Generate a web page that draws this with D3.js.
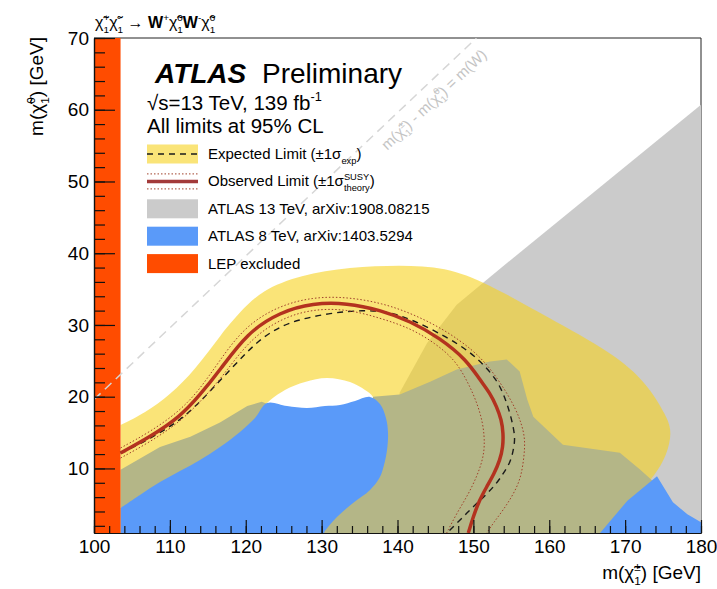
<!DOCTYPE html>
<html>
<head>
<meta charset="utf-8">
<script src="https://cdn.jsdelivr.net/npm/d3@7"></script>
<style>
body{margin:0;background:#fff}
svg{display:block}
text{font-family:"Liberation Sans",Arial,Helvetica,sans-serif;white-space:pre}
</style>
</head>
<body>
<div id="chart"></div>
<script>
// limits in (m chargino, m neutralino) GeV
var lepLimit = 103.5;
var mW = 80.4;

var xTickLabels = [100,110,120,130,140,150,160,170,180];
var yTickLabels = [10,20,30,40,50,60,70];

var atlas13Grey = [[180,60.7],[152.2,36.7],[147.8,32.8],[143.9,27.5],[140.3,20.6],[139.2,12],[138.5,1],[180,1]];

var atlas13Overlap = [[103.5,9.8],[108.7,13.0],[112.7,14.4],[116.6,16.4],[120.2,18.7],[122.1,19.3],[122.8,19.0],
  [125,15],[135,15],[136.8,20.0],[140.3,20.3],[144.3,22.1],[147.8,23.8],[152.2,24.9],[154.4,25.2],[156.1,23.5],
  [157.1,19.6],[157.9,17.2],[161.8,13.3],[169.3,12.2],[172.0,9.8],[173.9,8.0],[171,4],[168,1],[103.5,1]];

var atlas8Left = [[103.5,4.48],[106.06,6.30],[108.70,8.11],[111.33,9.64],[113.97,11.18],[116.61,12.99],[119.24,15.08],
  [121.22,17.03],[122.80,19.12],[125.44,18.70],[128.07,18.42],[130.44,18.70],[132.42,18.84],[134.40,19.40],
  [136.38,19.96],[137.69,18.98],[138.48,17.03],[138.75,14.94],[138.62,12.57],[138.22,10.48],[137.69,8.81],
  [136.38,7.00],[134.14,5.18],[132.16,3.37],[130.44,1.28],[130.05,0.5],[103.5,0.5]];
var atlas8Right = [[166.7,1],[170.3,5.5],[174.2,8.9],[176.3,5.3],[178.2,3.6],[180,2.5],[180,1]];

var expBandOuter = [[103.5,16.05],[106.72,17.73],[110.02,20.24],[113.31,23.72],[116.87,28.88],[119.24,31.81],
  [122.14,34.87],[127.15,36.96],[133.74,38.08],[140.33,38.36],[146.26,38.08],[151.80,35.85],[159.70,31.11],
  [168.40,26.09],[172.88,21.91],[175.52,17.17],[176.18,15.08],[175.52,11.87],[173.94,9.08],[171.96,6.72],
  [169,3],[167,1],[103.5,1]];
var expBandInner = [[122.0,18.0],[122.80,19.12],[125.17,20.93],[127.81,22.05],[130.70,22.61],[133.74,22.05],
  [135.72,20.93],[136.77,19.96],[137.5,17.5],[136,12],[125,12]];

var expCurve = [[103.5,12.15],[106.06,13.41],[109.09,15.22],[111.33,16.75],[113.57,18.84],[115.68,21.21],
  [117.92,23.72],[120.16,26.23],[122.27,28.32],[124.51,29.72],[126.75,30.69],[131.10,31.67],[135.45,32.09],
  [139.01,31.81],[142.04,30.69],[146.52,28.32],[149.56,26.23],[151.40,24.42],[153.07,22.33],[154.04,20.24],
  [154.83,17.73],[155.35,15.36],[155.49,13.96],[155.22,12.29],[154.83,10.76],[153.90,9.22],[153.07,7.93],
  [151.66,6.30],[149.99,4.67],[148.50,3.09],[146.92,1.42],[146.52,1.0]];

var obsCurve = [[103.5,12.15],[107.38,14.38],[111.33,17.17],[113.97,20.24],[116.61,23.72],[120.16,28.88],
  [124.51,31.81],[128.86,33.06],[133.34,33.06],[137.69,32.09],[141.65,30.55],[145.60,28.18],[149.12,25.11],
  [150.87,22.33],[152.19,20.52],[153.07,18.61],[153.71,16.75],[153.94,14.90],[153.90,12.99],[153.51,11.18],
  [152.72,9.22],[151.76,7.45],[150.74,5.46],[149.99,3.27],[149.33,1.0]];
var obsUp = [[103.5,12.85],[107.38,15.08],[111.33,18.01],[113.97,21.07],[116.34,24.70],[119.77,29.72],
  [124.25,32.64],[128.86,33.90],[133.34,33.90],[137.96,33.06],[142.04,31.53],[146.26,29.30],[149.95,26.51],
  [151.93,24.28],[153.29,22.33],[154.57,20.24],[155.62,18.15],[156.15,16.75],[156.68,14.94],[156.81,13.03],
  [156.54,10.48],[156.15,8.39],[155.22,6.30],[153.94,4.21],[152.72,2.53],[151.76,1.0]];
var obsDown = [[103.5,11.45],[107.38,13.68],[111.33,16.47],[114.23,19.54],[117.00,22.88],[120.56,28.04],
  [124.78,30.97],[128.86,32.22],[133.34,32.22],[137.69,30.97],[141.65,29.58],[144.94,27.48],[147.58,25.12],
  [149.12,22.33],[150.35,19.54],[151.31,16.29],[151.53,13.03],[151.14,10.90],[150.44,8.85],[149.29,6.30],
  [147.80,3.75],[146.48,1.0]];

var kinLabelAt = [144.8, 61.4];

// couleurs
var cYellow="#f7d21e", cGrey="#cbcbcb", cOlive="#b4b687", cBlue="#5a9af9", cLep="#ff4c00",
    cObs="#b3321f", cTheo="#a0402a";

var W=717, H=589;
var svg=d3.select("#chart").append("svg").attr("width",W).attr("height",H);

var x=d3.scaleLinear().domain([100,180]).range([94,701]);
var y=d3.scaleLinear().domain([1,70]).range([533,38]);

svg.append("defs").append("clipPath").attr("id","plot")
  .append("rect").attr("x",x(100)).attr("y",y(70)).attr("width",x(180)-x(100)).attr("height",y(1)-y(70));

// texte avec exposants / indices
function rich(parent, x0, y0, parts, size, opts){
  opts=opts||{};
  var g=parent.append("g");
  var cx=0, fill=opts.fill||"#000";
  parts.forEach(function(p){
    if(p.t){
      var e=g.append("text").attr("x",cx).attr("y",0).attr("fill",fill)
        .style("font-size",size+"px")
        .style("font-weight",p.b?"bold":"normal")
        .style("font-style",p.i?"italic":"normal")
        .text(p.t);
      cx+=e.node().getComputedTextLength();
    }
    var w=0;
    if(p.sup!=null){
      var s=g.append("text").attr("x",cx).attr("y",-size*0.42).attr("fill",fill)
        .style("font-size",(size*0.62)+"px").text(p.sup);
      w=Math.max(w,s.node().getComputedTextLength());
    }
    if(p.sub!=null){
      var b=g.append("text").attr("x",cx).attr("y",size*0.3).attr("fill",fill)
        .style("font-size",(size*0.62)+"px").text(p.sub);
      w=Math.max(w,b.node().getComputedTextLength());
    }
    cx+=w;
  });
  var dx=opts.anchor==="end"?-cx:(opts.anchor==="middle"?-cx/2:0);
  g.attr("transform","translate("+(x0+dx)+","+y0+")");
  return g;
}

// cadre haut / droite
svg.append("path").attr("d","M"+x(100)+","+y(70)+"H"+x(180)+"V"+y(1))
  .attr("fill","none").attr("stroke","#222").attr("stroke-width",1);

var plot=svg.append("g").attr("clip-path","url(#plot)");
function mk(curve){
  return d3.line().x(function(d){return x(d[0]);}).y(function(d){return y(d[1]);}).curve(curve);
}
var line=mk(d3.curveLinear);
var smooth=mk(d3.curveCatmullRom.alpha(0.5));
var smoothClosed=mk(d3.curveCatmullRomClosed.alpha(0.5));
var basis=mk(d3.curveBasis);

plot.append("path").attr("d",line(atlas13Grey)+"Z").attr("fill",cGrey);
plot.append("path").attr("d",basis(expBandOuter)+"Z"+smoothClosed(expBandInner))
  .attr("fill",cYellow).attr("fill-opacity",0.6).attr("fill-rule","evenodd");
plot.append("path").attr("d",line(atlas13Overlap)+"Z").attr("fill",cOlive);
plot.append("path").attr("d",smooth(atlas8Left)+"Z").attr("fill",cBlue);
plot.append("path").attr("d",line(atlas8Right)+"Z").attr("fill",cBlue);

plot.append("rect").attr("x",x(100)).attr("y",y(70))
  .attr("width",x(lepLimit)-x(100)).attr("height",y(1)-y(70)).attr("fill",cLep);

// m(chi+) - m(chi0) = m(W)
plot.append("line")
  .attr("x1",x(100)).attr("y1",y(100-mW)).attr("x2",x(70+mW)).attr("y2",y(70))
  .attr("stroke","#d6d6d6").attr("stroke-width",1.5).attr("stroke-dasharray","9,6");

plot.append("path").attr("d",basis(expCurve)).attr("fill","none")
  .attr("stroke","#1a1a1a").attr("stroke-width",1.4).attr("stroke-dasharray","6,5");
[obsUp,obsDown].forEach(function(c){
  plot.append("path").attr("d",basis(c)).attr("fill","none")
    .attr("stroke",cTheo).attr("stroke-width",1).attr("stroke-dasharray","1.5,2");
});
plot.append("path").attr("d",basis(obsCurve)).attr("fill","none")
  .attr("stroke",cObs).attr("stroke-width",3.5);

// étiquette de la diagonale
var ang=Math.atan2(y(60)-y(50), x(60+mW)-x(50+mW))*180/Math.PI;
var kl=svg.append("g").attr("transform","translate("+x(kinLabelAt[0])+","+y(kinLabelAt[1])+") rotate("+ang+")");
rich(kl,0,5,[{t:"m("},{t:"χ\u0303",sup:"±",sub:"1"},{t:") - m("},{t:"χ\u0303",sup:"0",sub:"1"},{t:") = m(W)"}],15,{anchor:"middle",fill:"#c4c4c4"});

// ATLAS
svg.append("text").attr("x",155).attr("y",83).style("font-size","28px").style("font-weight","bold").style("font-style","italic").text("ATLAS");
svg.append("text").attr("x",262).attr("y",83).style("font-size","28px").text("Preliminary");
rich(svg,147,110,[{t:"√s=13 TeV, 139 fb",sup:"-1"}],20.5);
rich(svg,147,133,[{t:"All limits at 95% CL"}],20.5);

// légende
var legX=147, legW=51, legH=19, legY0=154, legDY=27.4;
var legend=svg.append("g");
var legLabels=[
  [{t:"Expected Limit (±1σ",sub:"exp"},{t:")"}],
  [{t:"Observed Limit (±1σ",sup:"SUSY",sub:"theory"},{t:")"}],
  [{t:"ATLAS 13 TeV, arXiv:1908.08215"}],
  [{t:"ATLAS 8 TeV, arXiv:1403.5294"}],
  [{t:"LEP excluded"}]
];
legLabels.forEach(function(parts,i){
  var cy=legY0+i*legDY;
  if(i===0){
    legend.append("rect").attr("x",legX).attr("y",cy-legH/2).attr("width",legW).attr("height",legH).attr("fill",cYellow).attr("fill-opacity",0.6);
    legend.append("line").attr("x1",legX).attr("x2",legX+legW).attr("y1",cy).attr("y2",cy)
      .attr("stroke","#1a1a1a").attr("stroke-width",1.4).attr("stroke-dasharray","6,5");
  } else if(i===1){
    [-7.5,7.5].forEach(function(o){
      legend.append("line").attr("x1",legX).attr("x2",legX+legW).attr("y1",cy+o).attr("y2",cy+o)
        .attr("stroke",cTheo).attr("stroke-width",1).attr("stroke-dasharray","1.5,2");
    });
    legend.append("line").attr("x1",legX).attr("x2",legX+legW).attr("y1",cy).attr("y2",cy)
      .attr("stroke","#a33a3a").attr("stroke-width",3.5);
  } else {
    var col=[null,null,cGrey,cBlue,cLep][i];
    legend.append("rect").attr("x",legX).attr("y",cy-legH/2).attr("width",legW).attr("height",legH).attr("fill",col);
  }
  rich(legend,208,cy+5,parts,15);
});

// axes
function styleAxis(g){
  g.selectAll("path.domain").attr("stroke","#111").attr("stroke-width",1.2);
  g.selectAll(".tick line").attr("stroke","#111").attr("stroke-width",1.2);
  g.selectAll("text").attr("fill","#000").style("font-size","19px")
    .style("font-family","'Liberation Sans',Arial,Helvetica,sans-serif");
}
var xAx=svg.append("g").attr("transform","translate(0,"+y(1)+")");
xAx.call(d3.axisBottom(x).tickValues(d3.range(100,181,2)).tickSize(-7).tickSizeOuter(0).tickFormat(""));
xAx.append("g").call(d3.axisBottom(x).tickValues(xTickLabels).tickSize(-13).tickSizeOuter(0).tickPadding(7).tickFormat(d3.format("d")));
styleAxis(xAx);

var yAx=svg.append("g").attr("transform","translate("+x(100)+",0)");
yAx.call(d3.axisLeft(y).tickValues(d3.range(2,71,2)).tickSize(-11).tickSizeOuter(0).tickFormat(""));
yAx.append("g").call(d3.axisLeft(y).tickValues(yTickLabels).tickSize(-21).tickSizeOuter(0).tickPadding(5).tickFormat(d3.format("d")));
styleAxis(yAx);

// titres
rich(svg,95,28,[{t:"χ\u0303",sup:"+",sub:"1"},{t:"χ\u0303",sup:"-",sub:"1"},{t:" → "},{t:"W",b:true,sup:"+"},
  {t:"χ\u0303",sup:"0",sub:"1"},{t:"W",b:true,sup:"-"},{t:"χ\u0303",sup:"0",sub:"1"}],16);
rich(svg,701,579,[{t:"m("},{t:"χ\u0303",sup:"±",sub:"1"},{t:") [GeV]"}],19,{anchor:"end"});
var yl=svg.append("g").attr("transform","translate(43,37) rotate(-90)");
rich(yl,0,0,[{t:"m("},{t:"χ\u0303",sup:"0",sub:"1"},{t:") [GeV]"}],19,{anchor:"end"});
</script>
</body>
</html>
